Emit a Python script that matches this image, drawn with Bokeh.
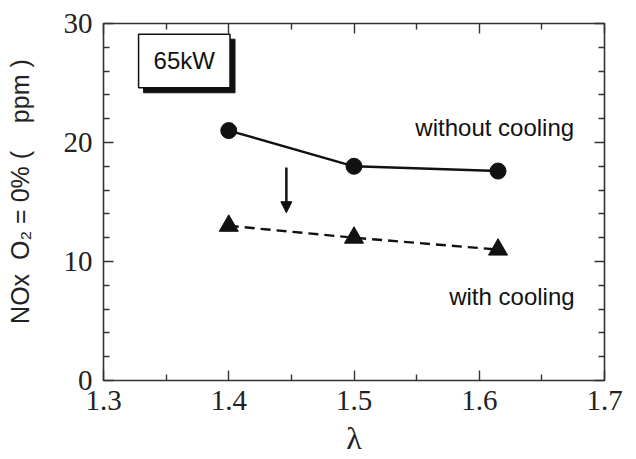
from bokeh.plotting import figure
from bokeh.models import Range1d, LinearAxis, Arrow, NormalHead, FixedTicker, CustomJSTickFormatter
from bokeh.core.properties import value
from bokeh.embed import file_html
from bokeh.resources import INLINE

# ---- data ----
lam_without = [1.4, 1.5, 1.615]
nox_without = [21.0, 18.0, 17.6]
lam_with = [1.4, 1.5, 1.615]
nox_with = [13.0, 12.0, 11.0]

x_ticks = [1.3, 1.4, 1.5, 1.6, 1.7]
y_ticks = [0, 10, 20, 30]

label_without = "without cooling"
label_with = "with cooling"
box_text = "65kW"
NB = "\u00a0"
y_label = NB * 3 + "NOx" + NB * 2 + "O₂ = 0% (" + NB * 4 + "ppm )"

# annotation anchors (data units)
without_pos = (1.549, 21.3)
with_pos = (1.576, 7.1)
arrow_x = 1.446
arrow_y = (17.9, 14.1)
box_l, box_r, box_b, box_t = 1.328, 1.401, 24.6, 29.1

SERIF = "Liberation Serif"
SANS = "Liberation Sans"
DARK = "#222222"

def minors(ticks, n):
    out = []
    for a, b in zip(ticks[:-1], ticks[1:]):
        step = (b - a) / n
        out += [a + step * k for k in range(1, n)]
    return out

x_minor = minors(x_ticks, 2)
y_minor = minors(y_ticks, 5)

p = figure(width=636, height=459, output_backend="svg", toolbar_location=None,
           x_range=Range1d(1.3, 1.7), y_range=Range1d(0, 30),
           min_border_left=103, min_border_right=32, min_border_top=23, min_border_bottom=79,
           x_axis_label="λ", y_axis_label=y_label)
p.grid.visible = False
p.background_fill_color = "white"
p.border_fill_color = "white"
p.outline_line_color = "#333333"
p.outline_line_width = 1.6

def style_axis(ax, show_labels=True):
    ax.axis_line_color = None
    ax.major_tick_in = 10
    ax.major_tick_out = 0
    ax.minor_tick_in = 6
    ax.minor_tick_out = 0
    ax.major_tick_line_color = "#333333"
    ax.minor_tick_line_color = "#333333"
    ax.major_tick_line_width = 1.4
    ax.minor_tick_line_width = 1.4
    if show_labels:
        ax.major_label_text_font = SERIF
        ax.major_label_text_font_size = "29px"
        ax.major_label_text_color = DARK
    else:
        ax.formatter = CustomJSTickFormatter(code="return ''")
        ax.major_label_standoff = 0

# bottom x axis
xa = p.xaxis[0]
xa.ticker = FixedTicker(ticks=x_ticks, minor_ticks=x_minor)
style_axis(xa)
xa.major_label_standoff = 10
xa.axis_label_text_font = SERIF
xa.axis_label_text_font_size = "32px"
xa.axis_label_text_font_style = "normal"
xa.axis_label_text_color = DARK
xa.axis_label_standoff = 7

# left y axis
ya = p.yaxis[0]
ya.ticker = FixedTicker(ticks=y_ticks, minor_ticks=y_minor)
style_axis(ya)
ya.major_label_standoff = 11
ya.axis_label_text_font = SANS
ya.axis_label_text_font_size = "25px"
ya.axis_label_text_font_style = "normal"
ya.axis_label_text_color = DARK
ya.axis_label_standoff = 27

# top and right mirror axes (ticks only)
top = LinearAxis(ticker=FixedTicker(ticks=x_ticks, minor_ticks=x_minor))
style_axis(top, show_labels=False)
p.add_layout(top, "above")
right = LinearAxis(ticker=FixedTicker(ticks=y_ticks, minor_ticks=y_minor))
style_axis(right, show_labels=False)
p.add_layout(right, "right")

# series
p.line(lam_without, nox_without, line_color="#111111", line_width=2.4)
p.scatter(lam_without, nox_without, marker="circle", size=16,
          fill_color="#111111", line_color="#111111")
p.line(lam_with, nox_with, line_color="#111111", line_width=2.4, line_dash="10 6")
p.scatter(lam_with, nox_with, marker="triangle", size=19,
          fill_color="#111111", line_color="#111111")

# texts
p.text([without_pos[0]], [without_pos[1]], text=[label_without],
       text_font=value(SANS), text_font_size="24px", text_color="#111111",
       text_baseline="alphabetic", text_align="left")
p.text([with_pos[0]], [with_pos[1]], text=[label_with],
       text_font=value(SANS), text_font_size="24px", text_color="#111111",
       text_baseline="alphabetic", text_align="left")

# arrow
p.add_layout(Arrow(end=NormalHead(size=11, fill_color="#111111", line_color="#111111"),
                   x_start=arrow_x, y_start=arrow_y[0], x_end=arrow_x, y_end=arrow_y[1],
                   line_color="#111111", line_width=2.5))

# 65kW box with shadow
dx, dy = 0.004, 0.42
p.quad(left=[box_l + dx], right=[box_r + dx], bottom=[box_b - dy], top=[box_t - dy],
       fill_color="#111111", line_color="#111111")
p.quad(left=[box_l], right=[box_r], bottom=[box_b], top=[box_t],
       fill_color="white", line_color="#111111", line_width=1.5)
p.text([(box_l + box_r) / 2], [(box_b + box_t) / 2], text=[box_text],
       text_font=value(SANS), text_font_size="24px", text_color="#111111",
       text_baseline="middle", text_align="center")

open("out.html", "w").write(file_html(p, INLINE))
